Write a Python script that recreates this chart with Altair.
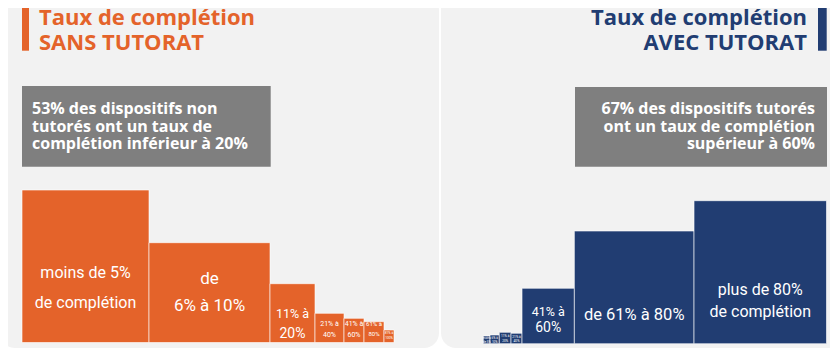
import altair as alt
import pandas as pd

# ---- data ----
categories = ["moins de 5%", "6% à 10%", "11% à 20%", "21% à 40%",
              "41% à 60%", "61% à 80%", "plus de 80%"]
sans_part = [127, 121, 45, 29, 20, 20, 10]          # bar widths (relative units)
sans_hauteur = [152.5, 99.8, 58.8, 29.2, 24.2, 20.8, 12.5]
avec_part = [6.7, 9.3, 11.7, 11.0, 52.3, 119.6, 132.4]
avec_hauteur = [7.7, 8.7, 11.4, 10.4, 55.4, 112.7, 143.0]

sans_labels = [["moins de 5%", "de complétion"], ["de", "6% à 10%"], ["11% à", "20%"],
               ["21% à", "40%"], ["41% à", "60%"], ["61% à", "80%"], ["81% à", "100%"]]
avec_labels = [["moins", "de 5%"], ["6% à", "10%"], ["11% à", "20%"], ["21% à", "40%"],
               ["41% à", "60%"], ["de 61% à 80%"], ["plus de 80%", "de complétion"]]

title_sans = ["Taux de complétion", "SANS TUTORAT"]
title_avec = ["Taux de complétion", "AVEC TUTORAT"]
box_sans = ["53% des dispositifs non", "tutorés ont un taux de", "complétion inférieur à 20%"]
box_avec = ["67% des dispositifs tutorés", "ont un taux de complétion", "supérieur à 60%"]

# ---- styles / layout ----
ORANGE = "#E4632A"
NAVY = "#213D72"
GRAY = "#7F7F7F"
BG = "#F2F2F2"
NARROW = "Roboto"
HEAD = "Open Sans"

sans_label_y = [[270, 300.3], [276, 303], [310.3, 330.3], [318, 328.7],
                [318, 328.7], [318, 328], [325.5, 331]]
sans_label_size = [[16, 16], [17, 17], [12.5, 14], [7, 7], [7, 7], [6, 6], [3.2, 3.2]]
avec_label_y = [[331, 334.5], [330.5, 334.5], [329, 333.5], [330, 334],
                [308, 324.3], [312], [287, 308.7]]
avec_label_size = [[3, 3], [3, 3], [3.2, 3.2], [3.2, 3.2], [12.5, 14], [16.5], [16, 16]]

one = pd.DataFrame({"k": [0]})


def rect(x, x2, y, y2, color, r=0):
    return alt.Chart(one).mark_rect(color=color, cornerRadius=r).encode(
        x=alt.value(x), x2=alt.value(x2), y=alt.value(y), y2=alt.value(y2))


def block(texts, x, y0, step, size, color, align, font=HEAD, weight="bold"):
    df = pd.DataFrame({"t": ["\n".join(texts)]})
    return alt.Chart(df).mark_text(
        color=color, align=align, baseline="alphabetic", font=font,
        fontWeight=weight, fontSize=size, lineBreak="\n", lineHeight=step).encode(
        x=alt.value(x), y=alt.value(y0), text="t:N")


def panel(parts, heights, labels, label_y, label_size, color, xrange, yrange):
    x1 = pd.Series(parts).cumsum()
    x0 = x1 - pd.Series(parts)
    df = pd.DataFrame({"cat": categories, "x0": x0, "x1": x1,
                       "y0": 0.0, "h": heights})
    rows = []
    for i, labs in enumerate(labels):
        mid = (x0[i] + x1[i]) / 2
        for j, t in enumerate(labs):
            rows.append({"t": t, "mid": mid, "py": label_y[i][j], "s": label_size[i][j]})
    ldf = pd.DataFrame(rows)
    xs = alt.Scale(domain=[0, float(sum(parts))], range=xrange, nice=False, zero=False)
    ys = alt.Scale(domain=[0, float(max(heights))], range=yrange, nice=False)
    bars = alt.Chart(df).mark_rect(color=color, stroke="white", strokeWidth=1,
                                   strokeOpacity=0.6).encode(
        x=alt.X("x0:Q", scale=xs, axis=None), x2="x1:Q",
        y=alt.Y("y0:Q", scale=ys, axis=None), y2="h:Q",
        tooltip=["cat:N"])
    labs = alt.Chart(ldf).mark_text(color="white", align="center", baseline="alphabetic",
                                    font=NARROW).encode(
        x=alt.X("mid:Q", scale=xs, axis=None),
        y=alt.Y("py:Q", scale=None),
        text="t:N",
        size=alt.Size("s:Q", scale=None, legend=None))
    return alt.layer(bars, labs)


left = panel(sans_part, sans_hauteur, sans_labels, sans_label_y, sans_label_size,
             ORANGE, [14, 386], [334.5, 182])
right = panel(avec_part, avec_hauteur, avec_labels, avec_label_y, avec_label_size,
              NAVY, [475.3, 818.5], [335.7, 192.7])

deco = [
    rect(-8, 431, -13, 340, BG, 15),
    rect(433, 850, -13, 340, BG, 15),
    rect(14, 21, -1.3, 42.7, ORANGE),
    rect(810, 818.7, -1.3, 42.7, NAVY),
    rect(14, 262.7, 78, 158.7, GRAY),
    rect(567, 819, 79, 158.7, GRAY),
    block(title_sans, 31, 17, 25, 22, ORANGE, "left"),
    block(title_avec, 799, 17, 25, 22, NAVY, "right"),
    block(box_sans, 24, 106, 17.5, 16, "white", "left"),
    block(box_avec, 807, 106, 17.5, 16, "white", "right"),
]

chart = alt.layer(*deco, left, right).resolve_scale(
    x="independent", y="independent").properties(
    width=822, height=344, padding=0,
    autosize=alt.AutoSizeParams(type="none")
).configure_view(stroke=None)

chart.save("out.html", embed_options={"renderer": "svg", "actions": False})
